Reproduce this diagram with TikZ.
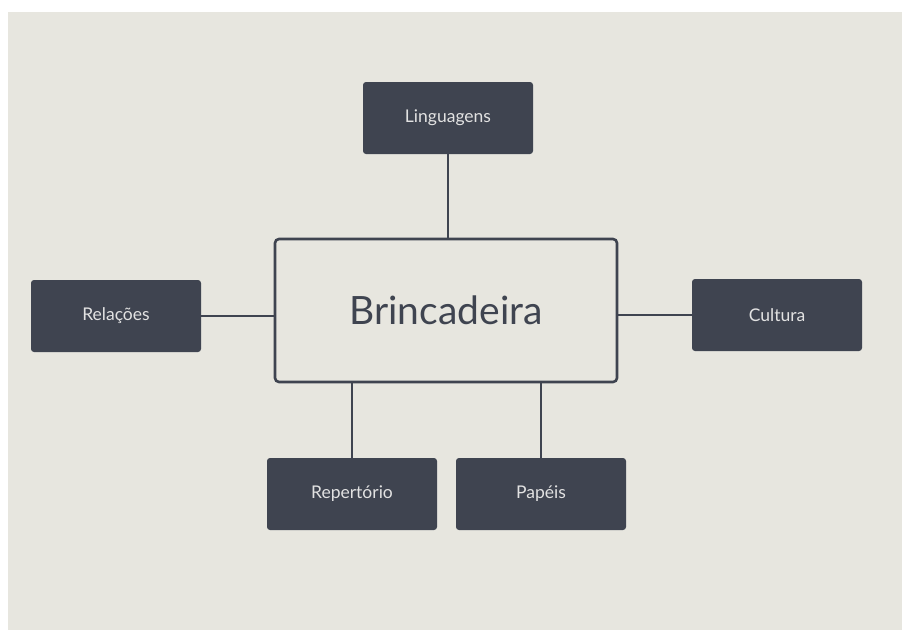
\documentclass[tikz,border=0pt]{standalone}
\usepackage{fontspec}
\setmainfont{Lato}
\definecolor{bgc}{HTML}{E7E6DF}
\definecolor{boxc}{HTML}{3F4450}
\definecolor{txtc}{HTML}{E2E2E2}
\begin{document}
\begin{tikzpicture}[x=1pt,y=-1pt,
  leaf/.style={fill=boxc,draw=none,rounded corners=3pt,minimum width=170pt,minimum height=72pt,inner sep=0pt,text=txtc,font=\fontsize{17.5}{20}\selectfont},
  hub/.style={fill=bgc,draw=boxc,line width=2.6pt,rounded corners=4pt,minimum width=342pt,minimum height=143pt,inner sep=0pt,text=boxc,font=\fontsize{39}{46}\selectfont},
  link/.style={draw=boxc,line width=2.6pt}]
\useasboundingbox (0,0) rectangle (902,630);
\fill[white] (0,0) rectangle (902,630);
\fill[bgc] (8,12) rectangle (902,630);
\node[hub] (hub) at (446,310.5) {Brincadeira};
\node[leaf] (ling) at (448,118) {Linguagens};
\node[leaf] (rel) at (116,316) {Relações};
\node[leaf] (cul) at (777,315) {Cultura};
\node[leaf] (rep) at (352,494) {Repertório};
\node[leaf] (pap) at (541,494) {Papéis};
\draw[link] (ling.south) -- (ling.south |- hub.north);
\draw[link] (rel.east) -- (rel.east -| hub.west);
\draw[link] (cul.west) -- (cul.west -| hub.east);
\draw[link] (rep.north) -- (rep.north |- hub.south);
\draw[link] (pap.north) -- (pap.north |- hub.south);
\end{tikzpicture}
\end{document}
